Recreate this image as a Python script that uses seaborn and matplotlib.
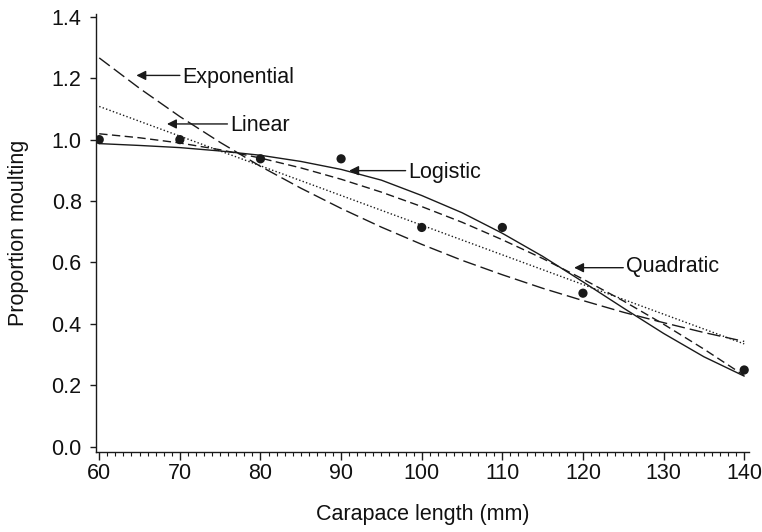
import matplotlib
matplotlib.use("Agg")
import matplotlib.pyplot as plt
import seaborn as sns
import pandas as pd

# Observed proportion of animals moulting by carapace length
length_mm = [60, 70, 80, 90, 100, 110, 120, 140]
prop_moulting = [1.0, 1.0, 0.9375, 0.9375, 0.714, 0.714, 0.5, 0.25]

# Fitted curves evaluated along carapace length
curve_x = [60, 65, 70, 75, 80, 85, 90, 95, 100, 105, 110, 115, 120, 125, 130, 135, 140]
logistic = [0.987, 0.981, 0.974, 0.963, 0.949, 0.929, 0.903, 0.868, 0.818,
            0.762, 0.695, 0.620, 0.537, 0.452, 0.369, 0.293, 0.230]
quadratic = [1.019, 1.006, 0.989, 0.967, 0.940, 0.908, 0.871, 0.829, 0.782,
             0.731, 0.674, 0.613, 0.546, 0.475, 0.399, 0.318, 0.232]
exponential = [1.266, 1.167, 1.075, 0.991, 0.913, 0.842, 0.776, 0.715, 0.659,
               0.607, 0.560, 0.516, 0.476, 0.438, 0.404, 0.372, 0.343]
linear_x = [60, 140]
linear = [1.108, 0.335]

# Curve labels: (text, arrow tip x, arrow tip y, text x, text y)
labels = [
    ("Exponential", 64.6, 1.209, 70.3, 1.203),
    ("Linear", 68.4, 1.051, 76.2, 1.045),
    ("Logistic", 91.0, 0.899, 98.3, 0.893),
    ("Quadratic", 118.9, 0.583, 125.3, 0.588),
]

FS = 15.5

sns.set_theme(style="ticks")
plt.rcParams["font.family"] = ["Liberation Sans", "DejaVu Sans"]
plt.rcParams["lines.scale_dashes"] = False

fig = plt.figure(figsize=(7.62, 5.32), dpi=100)
ax = fig.add_axes([0.126, 0.1504, 0.857, 0.8233])

df_obs = pd.DataFrame({"length": length_mm, "prop": prop_moulting})
df_curves = pd.DataFrame({"x": curve_x, "logistic": logistic,
                          "quadratic": quadratic, "exponential": exponential})
df_lin = pd.DataFrame({"x": linear_x, "linear": linear})

sns.lineplot(data=df_curves, x="x", y="exponential", ax=ax, color="#1a1a1a",
             lw=1.0, linestyle=(0, (9.5, 3.6)))
sns.lineplot(data=df_lin, x="x", y="linear", ax=ax, color="#1a1a1a",
             lw=1.0, linestyle=(0, (1.0, 1.6)))
sns.lineplot(data=df_curves, x="x", y="quadratic", ax=ax, color="#1a1a1a",
             lw=1.0, linestyle=(0, (6.0, 3.2)))
sns.lineplot(data=df_curves, x="x", y="logistic", ax=ax, color="#1a1a1a",
             lw=1.0, linestyle="-")
sns.scatterplot(data=df_obs, x="length", y="prop", ax=ax, color="#1a1a1a",
                s=44, edgecolor="none", zorder=5)

for text, tx, ty, lx, ly in labels:
    ax.annotate("", xy=(tx, ty), xytext=(lx - 0.3, ty),
                arrowprops=dict(arrowstyle="-|>", color="#1a1a1a", lw=1.0,
                                mutation_scale=14, shrinkA=0, shrinkB=0))
    ax.text(lx, ly, text, ha="left", va="center", fontsize=FS, color="#111111")

ax.set_xlim(59.6, 140.6)
ax.set_ylim(-0.017, 1.409)
ax.set_xticks(range(60, 141, 10))
ax.set_xticks(range(60, 141, 1), minor=True)
ax.set_yticks([0.0, 0.2, 0.4, 0.6, 0.8, 1.0, 1.2, 1.4])
ax.set_yticklabels([f"{v:.1f}" for v in [0.0, 0.2, 0.4, 0.6, 0.8, 1.0, 1.2, 1.4]])

ax.tick_params(axis="x", which="major", direction="out", length=5.8,
               width=1.0, color="#1a1a1a", labelsize=FS, labelcolor="#111111", pad=2)
ax.tick_params(axis="y", which="major", direction="out", length=4.3,
               width=1.0, color="#1a1a1a", labelsize=FS, labelcolor="#111111", pad=6)
ax.tick_params(axis="x", which="minor", direction="out", length=3.2,
               width=0.8, color="#1a1a1a")
ax.tick_params(axis="y", which="minor", left=False)

for side in ("left", "bottom"):
    ax.spines[side].set_color("#1a1a1a")
    ax.spines[side].set_linewidth(1.0)
sns.despine(ax=ax)

ax.set_xlabel("Carapace length (mm)", fontsize=FS, color="#111111")
ax.set_ylabel("Proportion moulting", fontsize=FS, color="#111111")
ax.xaxis.set_label_coords(0.5, -0.118)
ax.yaxis.set_label_coords(-0.103, 0.5)

fig.savefig("out.png", dpi=100)
